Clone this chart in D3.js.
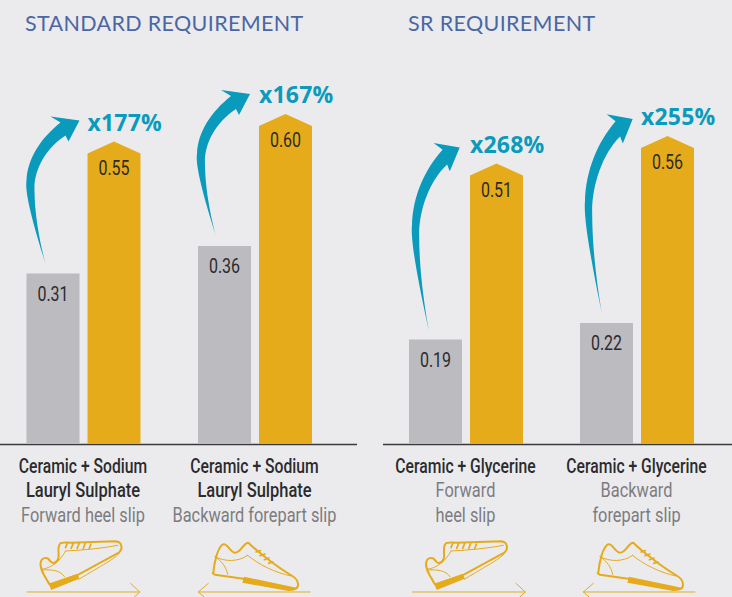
<!DOCTYPE html>
<html><head><meta charset="utf-8">
<script src="https://cdn.jsdelivr.net/npm/d3@7"></script>
<style>html,body{margin:0;padding:0;background:#ebebee}svg{display:block}</style>
</head><body><svg id="c" width="732" height="597"></svg>
<script>
const panelTitles = ["STANDARD REQUIREMENT", "SR REQUIREMENT"];
const categories = ["std-forward", "std-backward", "sr-forward", "sr-backward"];
const greyValues = [0.31, 0.36, 0.19, 0.22];
const goldValues = [0.55, 0.60, 0.51, 0.56];
const increaseLabels = ["x177%", "x167%", "x268%", "x255%"];
const labelDark = [["Ceramic + Sodium", "Lauryl Sulphate"], ["Ceramic + Sodium", "Lauryl Sulphate"], ["Ceramic + Glycerine"], ["Ceramic + Glycerine"]];
const labelGrey = [["Forward heel slip"], ["Backward forepart slip"], ["Forward", "heel slip"], ["Backward", "forepart slip"]];
const slipDirections = ["forward", "backward", "forward", "backward"];

const C = {bg:"#ebebee", grey:"#bcbbbf", gold:"#e5ab1b", teal:"#0a9abc", title:"#4a67a3", dark:"#2b2b2d", mid:"#7c7c7f", axis:"#3a3a3c"};
const svg = d3.select("#c");
svg.append("rect").attr("width",732).attr("height",597).attr("fill",C.bg);

const y = d3.scaleLinear().domain([0,1]).range([444,-106]);
const xLeft = d3.scalePoint().domain(categories.slice(0,2)).range([83.5,255]);
const xRight = d3.scalePoint().domain(categories.slice(2,4)).range([466,637]);
const cx = c => categories.indexOf(c) < 2 ? xLeft(c) : xRight(c);
const inner = d3.scaleBand().domain(["grey","gold"]).range([-57,57]).paddingInner(8/61);
const bw = inner.bandwidth();

[[25,panelTitles[0],0,357],[408,panelTitles[1],383,732]].forEach(([tx,t,a,b])=>{
  svg.append("text").attr("x",tx).attr("y",31).text(t)
    .attr("font-family","Lato").attr("font-size",21.5).attr("font-weight",400)
    .attr("letter-spacing",0.35).attr("fill",C.title);
  svg.append("line").attr("x1",a).attr("x2",b).attr("y1",y(0)+.5).attr("y2",y(0)+.5)
    .attr("stroke",C.axis).attr("stroke-width",1.3);
});

function narrowText(g,x,yy,t,size,col,sx,weight){
  return g.append("text").attr("transform",`translate(${x},${yy}) scale(${sx},1)`)
    .attr("text-anchor","middle").attr("font-family","Roboto").attr("font-size",size)
    .attr("font-weight",weight).attr("fill",col).text(t);
}

// swoosh arrow: the body stretches with the gap between the bars, the head less so
function arrowPath(k){
  const h = Math.sqrt(k), p = d3.path();
  p.moveTo(19,143*k);
  p.bezierCurveTo(7,105*k,-2,72*k,0,60*k);
  p.bezierCurveTo(1,38*k,14,4+14*k,34,2*h);
  p.lineTo(24,-4*h); p.lineTo(53,0); p.lineTo(42,21*h); p.lineTo(39,15*h);
  p.bezierCurveTo(19,15*h+13*k,7,50*k,8,70*k);
  p.bezierCurveTo(8,95*k,14,125*k,19,143*k);
  p.closePath();
  return p.toString();
}
const arrowLayout = [
  {rise:21,gap:10,dx:0,sx:1},
  {rise:20,gap:10,dx:-1,sx:1},
  {rise:16,gap:8,dx:3,sx:.9},
  {rise:17,gap:9,dx:5,sx:.9}
];

categories.forEach((c,i)=>{
  const g = svg.append("g").attr("class","group");
  const c0 = cx(c), gx = c0+inner("grey"), ox = c0+inner("gold");
  const gTop = y(greyValues[i]), oTop = y(goldValues[i]);
  g.append("rect").attr("x",gx).attr("y",gTop).attr("width",bw).attr("height",y(0)-gTop).attr("fill",C.grey);
  const p = d3.path();
  p.moveTo(ox,y(0)); p.lineTo(ox,oTop+12); p.lineTo(ox+bw/2,oTop); p.lineTo(ox+bw,oTop+12); p.lineTo(ox+bw,y(0)); p.closePath();
  g.append("path").attr("d",p.toString()).attr("fill",C.gold);

  narrowText(g,gx+bw/2,gTop+27,greyValues[i].toFixed(2),20.5,C.dark,0.78,400);
  narrowText(g,ox+bw/2,oTop+33,goldValues[i].toFixed(2),20.5,C.dark,0.78,400);

  const a = arrowLayout[i];
  const tailY = gTop-a.gap, headY = oTop-a.rise, k = (tailY-headY)/143;
  g.append("path").attr("d",arrowPath(k)).attr("fill",C.teal)
    .attr("transform",`translate(${gx+a.dx},${headY}) scale(${a.sx},1)`);

  g.append("text").attr("x",ox).attr("y",oTop-11).text(increaseLabels[i])
    .attr("font-family","'Open Sans'").attr("font-weight",700).attr("font-size",23)
    .attr("letter-spacing",0.2).attr("fill",C.teal);

  const lines = labelDark[i].map(t=>[t,C.dark,500,t.startsWith("Lauryl")?0.845:0.805])
    .concat(labelGrey[i].map(t=>[t,C.mid,400,0.84]));
  lines.forEach(([t,col,w,sx],j)=>{
    narrowText(g,c0-0.5,473+j*24.3,t,19.5,col,sx,w);
  });

  const dir = slipDirections[i];
  const nudge = [-3,0,0,3][i];
  const s = g.append("g").attr("transform",`translate(${c0+nudge},586) scale(0.3333)`)
    .attr("fill","none").attr("stroke",C.gold).attr("stroke-linejoin","round").attr("stroke-linecap","round");
  if(dir==="forward"){
    s.append("path").attr("stroke-width",6).attr("d","M-93 -5C-108 -30 -122 -50 -120 -68C-118 -85 -100 -90 -92 -76C-84 -64 -70 -68 -66 -85C-64 -100 -70 -115 -62 -126C-58 -132 -50 -130 -30 -130L105 -134C125 -132 128 -112 115 -100L-5 -35L-93 -5");
    s.append("path").attr("stroke-width",3).attr("d","M115 -98C110 -85 60 -60 -5 -20M-118 -50C-90 -52 -60 -75 -45 -105M-118 -48C-90 -50 -60 -48 -48 -28M-45 -105C10 -108 60 -112 112 -122");
    s.append("path").attr("stroke-width",5).attr("d","M-45 -115L-40 -128M-28 -113L-22 -128M-10 -113L-4 -128M8 -112L14 -128M26 -112L31 -126");
    s.append("path").attr("fill",C.gold).attr("stroke","none").attr("d","M-95 -6L-8 -37L-4 -22L-88 12Z");
    s.append("path").attr("stroke-width",3).attr("d","M-160 18L178 18M150 -8L178 18L150 44");
  } else {
    s.append("path").attr("stroke-width",6).attr("d","M-125 -40C-122 -75 -112 -110 -100 -122C-85 -136 -75 -100 -60 -100C-42 -100 -35 -130 -20 -130C0 -110 60 -60 112 -30C132 -18 135 5 118 10L-35 -22L-120 -34C-128 -36 -128 -42 -125 -40");
    s.append("path").attr("stroke-width",3).attr("d","M-120 -88C-90 -72 -50 -72 -22 -92M-120 -88C-100 -75 -85 -55 -82 -35M-22 -92C10 -65 60 -40 108 -30");
    s.append("path").attr("stroke-width",5).attr("d","M3 -102L16 -106M15 -91L30 -96M28 -79L42 -84M41 -68L54 -72");
    s.append("path").attr("fill",C.gold).attr("stroke","none").attr("d","M-33 -28L125 5C122 14 110 14 100 15L-38 -10Z");
    s.append("path").attr("stroke-width",3).attr("d","M165 18L-170 18M-140 -8L-170 18L-140 44");
  }
});
</script></body></html>
